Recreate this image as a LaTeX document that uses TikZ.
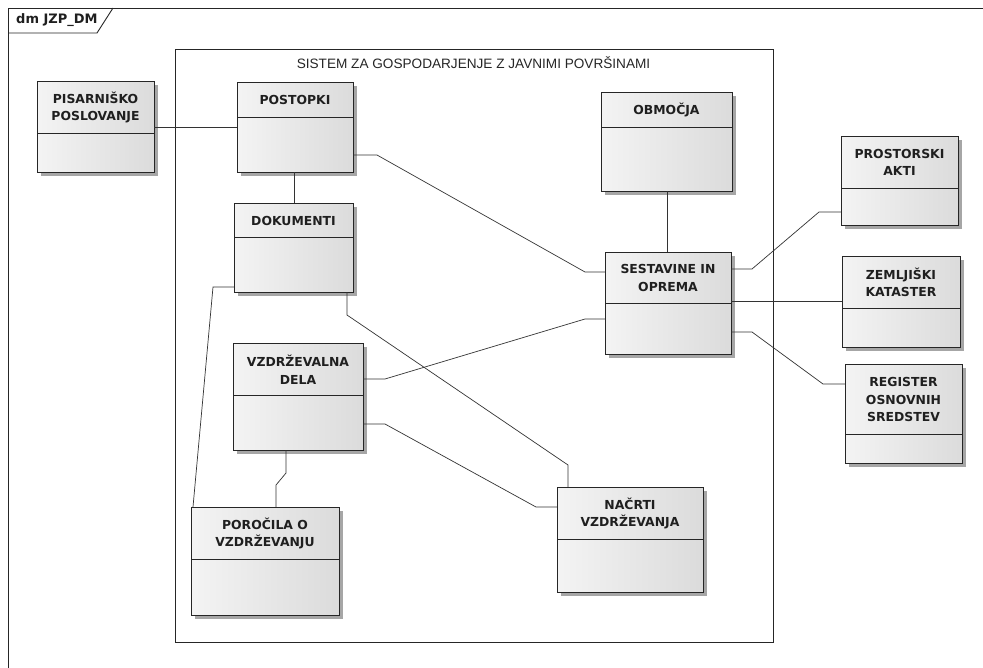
\documentclass[tikz,border=0pt]{standalone}
\usepackage{fontspec}
\setmainfont{Liberation Sans}
\newfontfamily\boxfont{DejaVu Sans}
\usetikzlibrary{shadows}
\newcommand\umlbox[7]{%
  \node[cls, minimum width={(#4-#2)*1pt}, minimum height={(#5-#3)*1pt}] (#1) at (#2,#3) {};
  \draw[divl] (#1.west |- 0,#6) -- (#1.east |- 0,#6);
  \node[lbl] (#1-t) at ({(#2+#4)/2},{(#3+#6)/2+0.5}) {#7};
}
\begin{document}
\begin{tikzpicture}[x=1pt,y=-1pt,
  cls/.style={draw=black!85, line width=0.9pt, left color=gray!9, middle color=gray!14, right color=gray!28,
    drop shadow={shadow xshift=4pt, shadow yshift=-4pt, fill=gray!70, opacity=1},
    anchor=north west, inner sep=0pt, outer sep=0pt},
  divl/.style={draw=black!85, line width=0.9pt},
  lbl/.style={font=\boxfont\bfseries\fontsize{12.4}{17.5}\selectfont, align=center, text=black!88},
  conn/.style={draw=black!80, line width=0.7pt},
  frm/.style={draw=black!85, line width=0.9pt}]
\useasboundingbox (0,0) rectangle (983,667);
\clip (0,0) rectangle (983,667);
\fill[white] (0,0) rectangle (983,667);
% outer frame
\draw[frm] (8,680) -- (8,8) -- (995,8);
\draw[frm] (8,33) -- (97,33) -- (113,8);
\node[anchor=west, inner sep=0pt, font=\boxfont\bfseries\fontsize{13}{15}\selectfont, text=black!88] (frmlbl) at (16,20.5) {dm JZP\_DM};
% system boundary
\draw[frm] (175,49) rectangle (773,642);
\node[font=\fontsize{13.6}{15}\selectfont, text=black!85] (systitle) at (473.5,63) {SISTEM ZA GOSPODARJENJE Z JAVNIMI POVRŠINAMI};
% boxes
\umlbox{pis}{37}{81}{154}{172}{133}{PISARNIŠKO\\POSLOVANJE}
\umlbox{post}{237}{82}{353}{172}{117}{POSTOPKI}
\umlbox{dok}{234}{203}{353}{292}{237}{DOKUMENTI}
\umlbox{vzd}{233}{343}{363}{450}{395}{VZDRŽEVALNA\\DELA}
\umlbox{por}{191}{507}{339}{615}{559}{POROČILA O\\VZDRŽEVANJU}
\umlbox{nac}{557}{487}{703}{592}{539}{NAČRTI\\VZDRŽEVANJA}
\umlbox{obm}{601}{92}{732}{191}{127}{OBMOČJA}
\umlbox{ses}{605}{252}{731}{354}{303}{SESTAVINE IN\\OPREMA}
\umlbox{pro}{841}{136}{958}{225}{188}{PROSTORSKI\\AKTI}
\umlbox{zem}{842}{256}{960}{347}{308}{ZEMLJIŠKI\\KATASTER}
\umlbox{reg}{845}{364}{962}{463}{434}{REGISTER\\OSNOVNIH\\SREDSTEV}
% connectors
\draw[conn] (pis.east |- 0,127) -- (post.west |- 0,127);
\draw[conn] (post.south -| 294,0) -- (dok.north -| 294,0);
\draw[conn] (post.east |- 0,155) -- (377,155) -- (585,272) -- (ses.west |- 0,272);
\draw[conn] (obm.south -| 667,0) -- (ses.north -| 667,0);
\draw[conn] (ses.east |- 0,269) -- (752,269) -- (819,212) -- (pro.west |- 0,212);
\draw[conn] (ses.east |- 0,301) -- (zem.west |- 0,301);
\draw[conn] (ses.east |- 0,332) -- (752,332) -- (823,384) -- (reg.west |- 0,384);
\draw[conn] (dok.west |- 0,287) -- (213,287) -- (por.north -| 193,0);
\draw[conn] (dok.south -| 347,0) -- (347,315) -- (568,465) -- (nac.north -| 568,0);
\draw[conn] (vzd.east |- 0,379) -- (385,379) -- (585,319) -- (ses.west |- 0,319);
\draw[conn] (vzd.east |- 0,424) -- (385,424) -- (536,507) -- (nac.west |- 0,507);
\draw[conn] (vzd.south -| 286,0) -- (286,473) -- (276,485) -- (por.north -| 276,0);
\end{tikzpicture}
\end{document}
